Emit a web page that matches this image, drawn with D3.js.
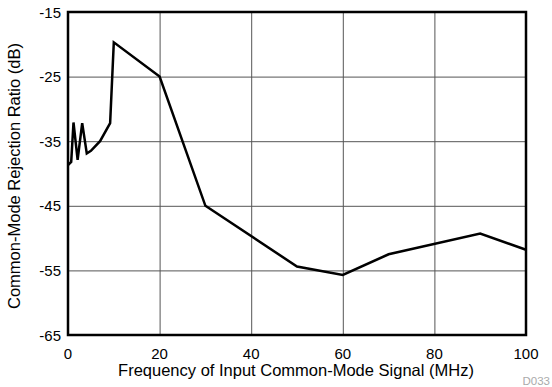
<!DOCTYPE html>
<html><head><meta charset="utf-8">
<script src="https://cdn.jsdelivr.net/npm/d3@7"></script>
<style>body{margin:0;background:#fff}svg{display:block;font-family:"Liberation Sans",Arial,Helvetica,sans-serif}</style>
</head><body>
<script>
const freq = [0, 0.7, 1.2, 2.1, 3.1, 4.1, 5, 7, 9.2, 10, 20, 30, 50, 60, 70, 90, 100];
const cmrr = [-38.7, -38.2, -32.1, -37.9, -32.2, -36.9, -36.5, -35, -32.2, -19.7, -25, -45, -54.4, -55.7, -52.5, -49.3, -51.8];
const xTicks = [0, 20, 40, 60, 80, 100];
const yTicks = [-65, -55, -45, -35, -25, -15];
const xTitle = "Frequency of Input Common-Mode Signal (MHz)";
const yTitle = "Common-Mode Rejection Ratio (dB)";
const code = "D033";

const W = 552, H = 387;
const m = {l: 68, r: 26, t: 12, b: 52};
const svg = d3.select("body").append("svg").attr("width", W).attr("height", H);
const x = d3.scaleLinear().domain([0, 100]).range([m.l, W - m.r]);
const y = d3.scaleLinear().domain([-65, -15]).range([H - m.b, m.t]);

// grid via axes
svg.append("g").attr("transform", `translate(0,${y(-65)})`)
  .call(d3.axisBottom(x).tickValues(xTicks.slice(1, -1)).tickSize(-(y(-65) - y(-15))).tickFormat(""))
  .call(g => g.select(".domain").remove())
  .call(g => g.selectAll("line").attr("stroke", "#555").attr("stroke-width", 1));
svg.append("g").attr("transform", `translate(${x(0)},0)`)
  .call(d3.axisLeft(y).tickValues(yTicks.slice(1, -1)).tickSize(-(x(100) - x(0))).tickFormat(""))
  .call(g => g.select(".domain").remove())
  .call(g => g.selectAll("line").attr("stroke", "#555").attr("stroke-width", 1));

// tick labels
svg.append("g").selectAll("text").data(xTicks).join("text")
  .attr("x", d => x(d)).attr("y", 359).attr("text-anchor", "middle")
  .attr("font-size", 15).attr("fill", "#000").text(d => String(d));
svg.append("g").selectAll("text").data(yTicks).join("text")
  .attr("x", 61).attr("y", d => y(d) + 5.5).attr("text-anchor", "end")
  .attr("font-size", 15).attr("fill", "#000").text(d => String(d));

// line
svg.append("path").datum(freq.map((f, i) => [f, cmrr[i]]))
  .attr("d", d3.line().x(d => x(d[0])).y(d => y(d[1])))
  .attr("fill", "none").attr("stroke", "#000").attr("stroke-width", 2.5).attr("stroke-linejoin", "miter");

// frame
svg.append("rect").attr("x", x(0)).attr("y", y(-15)).attr("width", x(100) - x(0)).attr("height", y(-65) - y(-15))
  .attr("fill", "none").attr("stroke", "#000").attr("stroke-width", 2.5);

// titles
svg.append("text").attr("x", 296).attr("y", 376).attr("text-anchor", "middle")
  .attr("font-size", 16.5).text(xTitle);
svg.append("text").attr("transform", `translate(20,176) rotate(-90)`)
  .attr("text-anchor", "middle").attr("font-size", 16.5).text(yTitle);
svg.append("text").attr("x", 550).attr("y", 385).attr("text-anchor", "end")
  .attr("font-size", 11.5).attr("fill", "#aaa").text(code);
</script>
</body></html>
